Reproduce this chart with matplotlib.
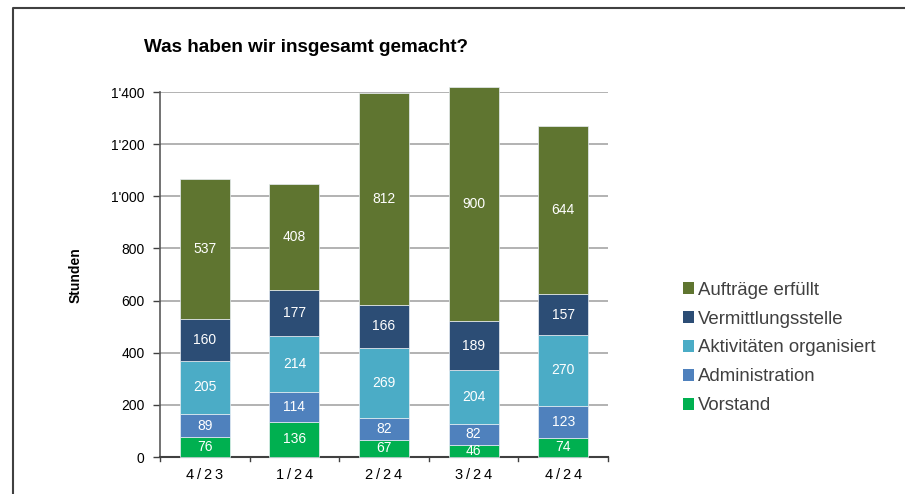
import matplotlib
matplotlib.use("Agg")
import matplotlib.pyplot as plt
from matplotlib.patches import Patch
from matplotlib.lines import Line2D
import numpy as np

plt.rcParams['font.family'] = ['Liberation Sans', 'DejaVu Sans']

categories = ["4/23", "1/24", "2/24", "3/24", "4/24"]
series_names = ["Vorstand", "Administration", "Aktivitäten organisiert",
                "Vermittlungsstelle", "Aufträge erfüllt"]
vorstand = [76, 136, 67, 46, 74]
administration = [89, 114, 82, 82, 123]
aktivitaeten = [205, 214, 269, 204, 270]
vermittlung = [160, 177, 166, 189, 157]
auftraege = [537, 408, 812, 900, 644]
yticks = [0, 200, 400, 600, 800, 1000, 1200, 1400]
ytick_labels = ["0", "200", "400", "600", "800", "1'000", "1'200", "1'400"]

colors = ["#00B050", "#4F81BD", "#4BACC6", "#2C4D75", "#5F7530"]
series = [vorstand, administration, aktivitaeten, vermittlung, auftraege]

W, H = 905, 494
fig = plt.figure(figsize=(W / 100, H / 100), dpi=100)
ax = fig.add_axes([160 / W, 1 - 457 / H, (608 - 160) / W, (457 - 92) / H])

x = np.arange(len(categories))
bottom = np.zeros(len(categories))
for vals, col in zip(series, colors):
    ax.bar(x, vals, width=0.56, bottom=bottom, color=col,
           edgecolor="#E8EEF4", linewidth=0.5, clip_on=False, zorder=3)
    for xi, b, v in zip(x, bottom, vals):
        ax.text(xi, b + v / 2, str(v), ha="center", va="center",
                color="white", fontsize=10, zorder=4)
    bottom += np.array(vals)

ax.set_xlim(-0.5, len(categories) - 0.5)
ax.set_ylim(0, 1400)
ax.set_yticks(yticks)
ax.set_yticklabels(ytick_labels, fontsize=10)
ax.yaxis.grid(True, color="#A6A6A6", linewidth=1.2, zorder=0)
ax.set_axisbelow(True)

ax.set_xticks(x)
ax.set_xticklabels(["\u2009".join(c) for c in categories], fontsize=10.5,
                   family=['Liberation Sans', 'DejaVu Sans'])
ax.tick_params(axis="x", length=0, pad=8)
for xb in np.arange(-0.5, len(categories), 1.0):
    ax.plot([xb, xb], [0, -0.012], transform=ax.get_xaxis_transform(),
            color="#404040", linewidth=1, clip_on=False)
ax.tick_params(axis="y", length=5, width=1, color="#404040", direction="out", pad=6)

for s in ["top", "right"]:
    ax.spines[s].set_visible(False)
ax.spines["left"].set_color("#5a5a5a")
ax.spines["bottom"].set_color("#404040")
ax.spines["left"].set_linewidth(1.2)
ax.spines["bottom"].set_linewidth(1.5)

fig.text(76 / W, 1 - 275 / H, "Stunden", rotation=90, ha="center", va="center",
         fontsize=10, fontweight="bold")

fig.text(306 / W, 1 - 48 / H, "Was haben wir insgesamt gemacht?",
         ha="center", va="center", fontsize=13.6, fontweight="bold")

handles = [Patch(facecolor=c, edgecolor="none") for c in colors[::-1]]
leg = fig.legend(handles, series_names[::-1], loc="center left",
                 bbox_to_anchor=(670 / W, 1 - 348 / H), frameon=False,
                 fontsize=13.4, handlelength=0.6, handleheight=0.6,
                 handletextpad=0.2, labelspacing=0.64, borderpad=0.2)
for t in leg.get_texts():
    t.set_color("#404040")

# frame lines
fig.add_artist(Line2D([13 / W, 13 / W, 1.0], [0.0, 1 - 8 / H, 1 - 8 / H],
                      transform=fig.transFigure, color="#404040", linewidth=1.5))

fig.savefig("out.png", dpi=100)
